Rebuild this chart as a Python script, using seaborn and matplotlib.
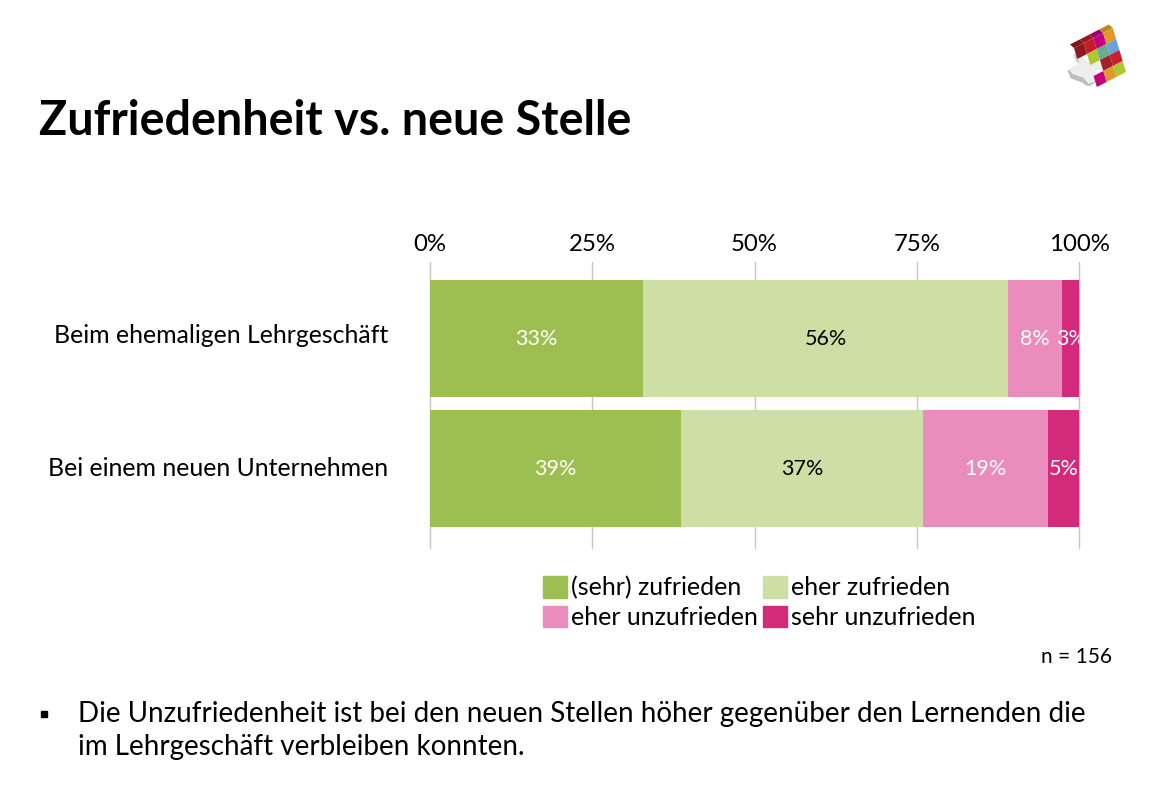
import matplotlib
matplotlib.use("Agg")
import matplotlib.pyplot as plt
from matplotlib.patches import Patch, Polygon, Rectangle
from matplotlib.transforms import ScaledTranslation
import seaborn as sns
import numpy as np

categories = ["Beim ehemaligen Lehrgeschäft", "Bei einem neuen Unternehmen"]
sehr_zufrieden = [32.8, 38.6]
eher_zufrieden = [56.3, 37.4]
eher_unzufrieden = [8.3, 19.2]
sehr_unzufrieden = [2.6, 4.8]

series_names = ["(sehr) zufrieden", "eher zufrieden", "eher unzufrieden", "sehr unzufrieden"]
series_values = [sehr_zufrieden, eher_zufrieden, eher_unzufrieden, sehr_unzufrieden]
series_colors = ["#9DBE50", "#CDDFA5", "#EA8CBC", "#D42A7C"]
label_colors = ["white", "black", "white", "white"]
x_ticks = [0, 25, 50, 75, 100]

sns.set_style("white")
plt.rcParams["font.family"] = ["Lato", "DejaVu Sans"]
plt.rcParams["text.color"] = "black"
plt.rcParams["xtick.color"] = "black"
plt.rcParams["ytick.color"] = "black"

W, H = 1170, 788
fig = plt.figure(figsize=(W / 100, H / 100), dpi=100)
ax = fig.add_axes([430 / W, 1 - 548 / H, 649 / W, 286 / H])

# gestapelt: laengster Balken zuerst, die kuerzeren liegen darueber
cum = np.cumsum(series_values, axis=0)
for i in range(3, -1, -1):
    sns.barplot(x=cum[i], y=categories, color=series_colors[i], saturation=1,
                width=0.9, orient="h", ax=ax, linewidth=0)

ax.set_xlim(0, 100)
ax.set_ylim(1.61, -0.588)
ax.set_xticks(x_ticks)
ax.set_xticklabels([f"{t}%" for t in x_ticks], fontsize=17.3)
ax.xaxis.tick_top()
ax.tick_params(axis="x", length=0, pad=5)
ax.tick_params(axis="y", length=0, pad=30, labelsize=17.9)
ax.grid(axis="x", color="#C6C6C6", lw=1)
for gl in ax.get_xgridlines():
    gl.set_clip_on(False)
ax.set_axisbelow(True)
sns.despine(ax=ax, left=True, bottom=True, top=True, right=True)
ax.set_xlabel("")
ax.set_ylabel("")

# Kategorie-Texte sitzen im Original etwas hoeher als die Balkenmitte
for lbl, dy in zip(ax.get_yticklabels(), [5, 2]):
    lbl.set_transform(lbl.get_transform() + ScaledTranslation(0, dy / 100, fig.dpi_scale_trans))

for i, vals in enumerate(series_values):
    starts = cum[i] - np.array(vals)
    for j, v in enumerate(vals):
        ax.text(starts[j] + v / 2, j, f"{round(v)}%", color=label_colors[i], fontsize=15.5,
                ha="center", va="center", clip_on=True)

handles = [Patch(color=c, label=n) for c, n in zip(series_colors, series_names)]
fig.legend(handles=[handles[0], handles[2], handles[1], handles[3]], ncols=2, frameon=False,
           loc="upper left", bbox_to_anchor=(538 / W, 1 - 571 / H), fontsize=18,
           handlelength=0.96, handleheight=0.96, handletextpad=0.16, columnspacing=0.2,
           labelspacing=0.25, borderpad=0.2, borderaxespad=0)

fig.text(39 / W, 1 - 121 / H, "Zufriedenheit vs. neue Stelle", fontsize=33.6, fontweight="bold",
         ha="left", va="center")
fig.text(1112 / W, 1 - 657 / H, "n = 156", fontsize=15, ha="right", va="center")
fig.text(78 / W, 1 - 714 / H, "Die Unzufriedenheit ist bei den neuen Stellen höher gegenüber den Lernenden die",
         fontsize=20, ha="left", va="center")
fig.text(78 / W, 1 - 746.5 / H, "im Lehrgeschäft verbleiben konnten.", fontsize=20, ha="left", va="center")

# Overlay in Pixelkoordinaten fuer Bullet und Logo
over = fig.add_axes([0, 0, 1, 1], zorder=5)
over.set_xlim(0, W)
over.set_ylim(H, 0)
over.axis("off")
over.add_patch(Rectangle((41, 711), 6, 6, color="black"))

logo_rows = [
    ["#8E1A1E", "#C41E2A", "#C4007F", "#E0982A"],
    [None, "#AFC832", "#68AE8C", "#6BA3D6"],
    [None, None, "#A61E28", "#C8202E"],
    [None, "#C4007F", "#E0982A", "#AFC832"],
]
logo_top = ["#7E1418", "#9A1820", "#A0006A", "#B88A20"]
o = np.array([1074.0, 48.0])
u = np.array([9.7, -5.0])
v = np.array([3.3, 11.0])
off = np.array([-4.0, -3.5])


def logo_px(pts):
    return [[1040 + x / 3, 10 + y / 3] for x, y in pts]


# graue Seite und weisses Kreuz
over.add_patch(Polygon(logo_px([[82, 180], [92, 205], [128, 218], [136, 226], [150, 228], [175, 210],
                                [145, 200], [100, 180]]), closed=True, color="#BDBDBD", lw=0))
over.add_patch(Polygon(logo_px([[100, 135], [112, 160], [120, 160], [108, 128]]),
                       closed=True, color="#CFCFCF", lw=0))
over.add_patch(Polygon(logo_px([[108, 128], [145, 155], [185, 145], [200, 178], [165, 182], [175, 210],
                                [146, 222], [130, 203], [98, 192], [85, 178], [120, 160]]),
                       closed=True, color="#EDEDED", lw=0))
for c, col in enumerate(logo_top):
    p = o + u * c
    over.add_patch(Polygon([p, p + u, p + u + off, p + off], closed=True, color=col, lw=0))
for r, row in enumerate(logo_rows):
    for c, col in enumerate(row):
        if col is None:
            continue
        p = o + u * c + v * r
        over.add_patch(Polygon([p, p + u, p + u + v, p + v], closed=True, color=col, lw=0))

fig.savefig("out.png", dpi=100)
